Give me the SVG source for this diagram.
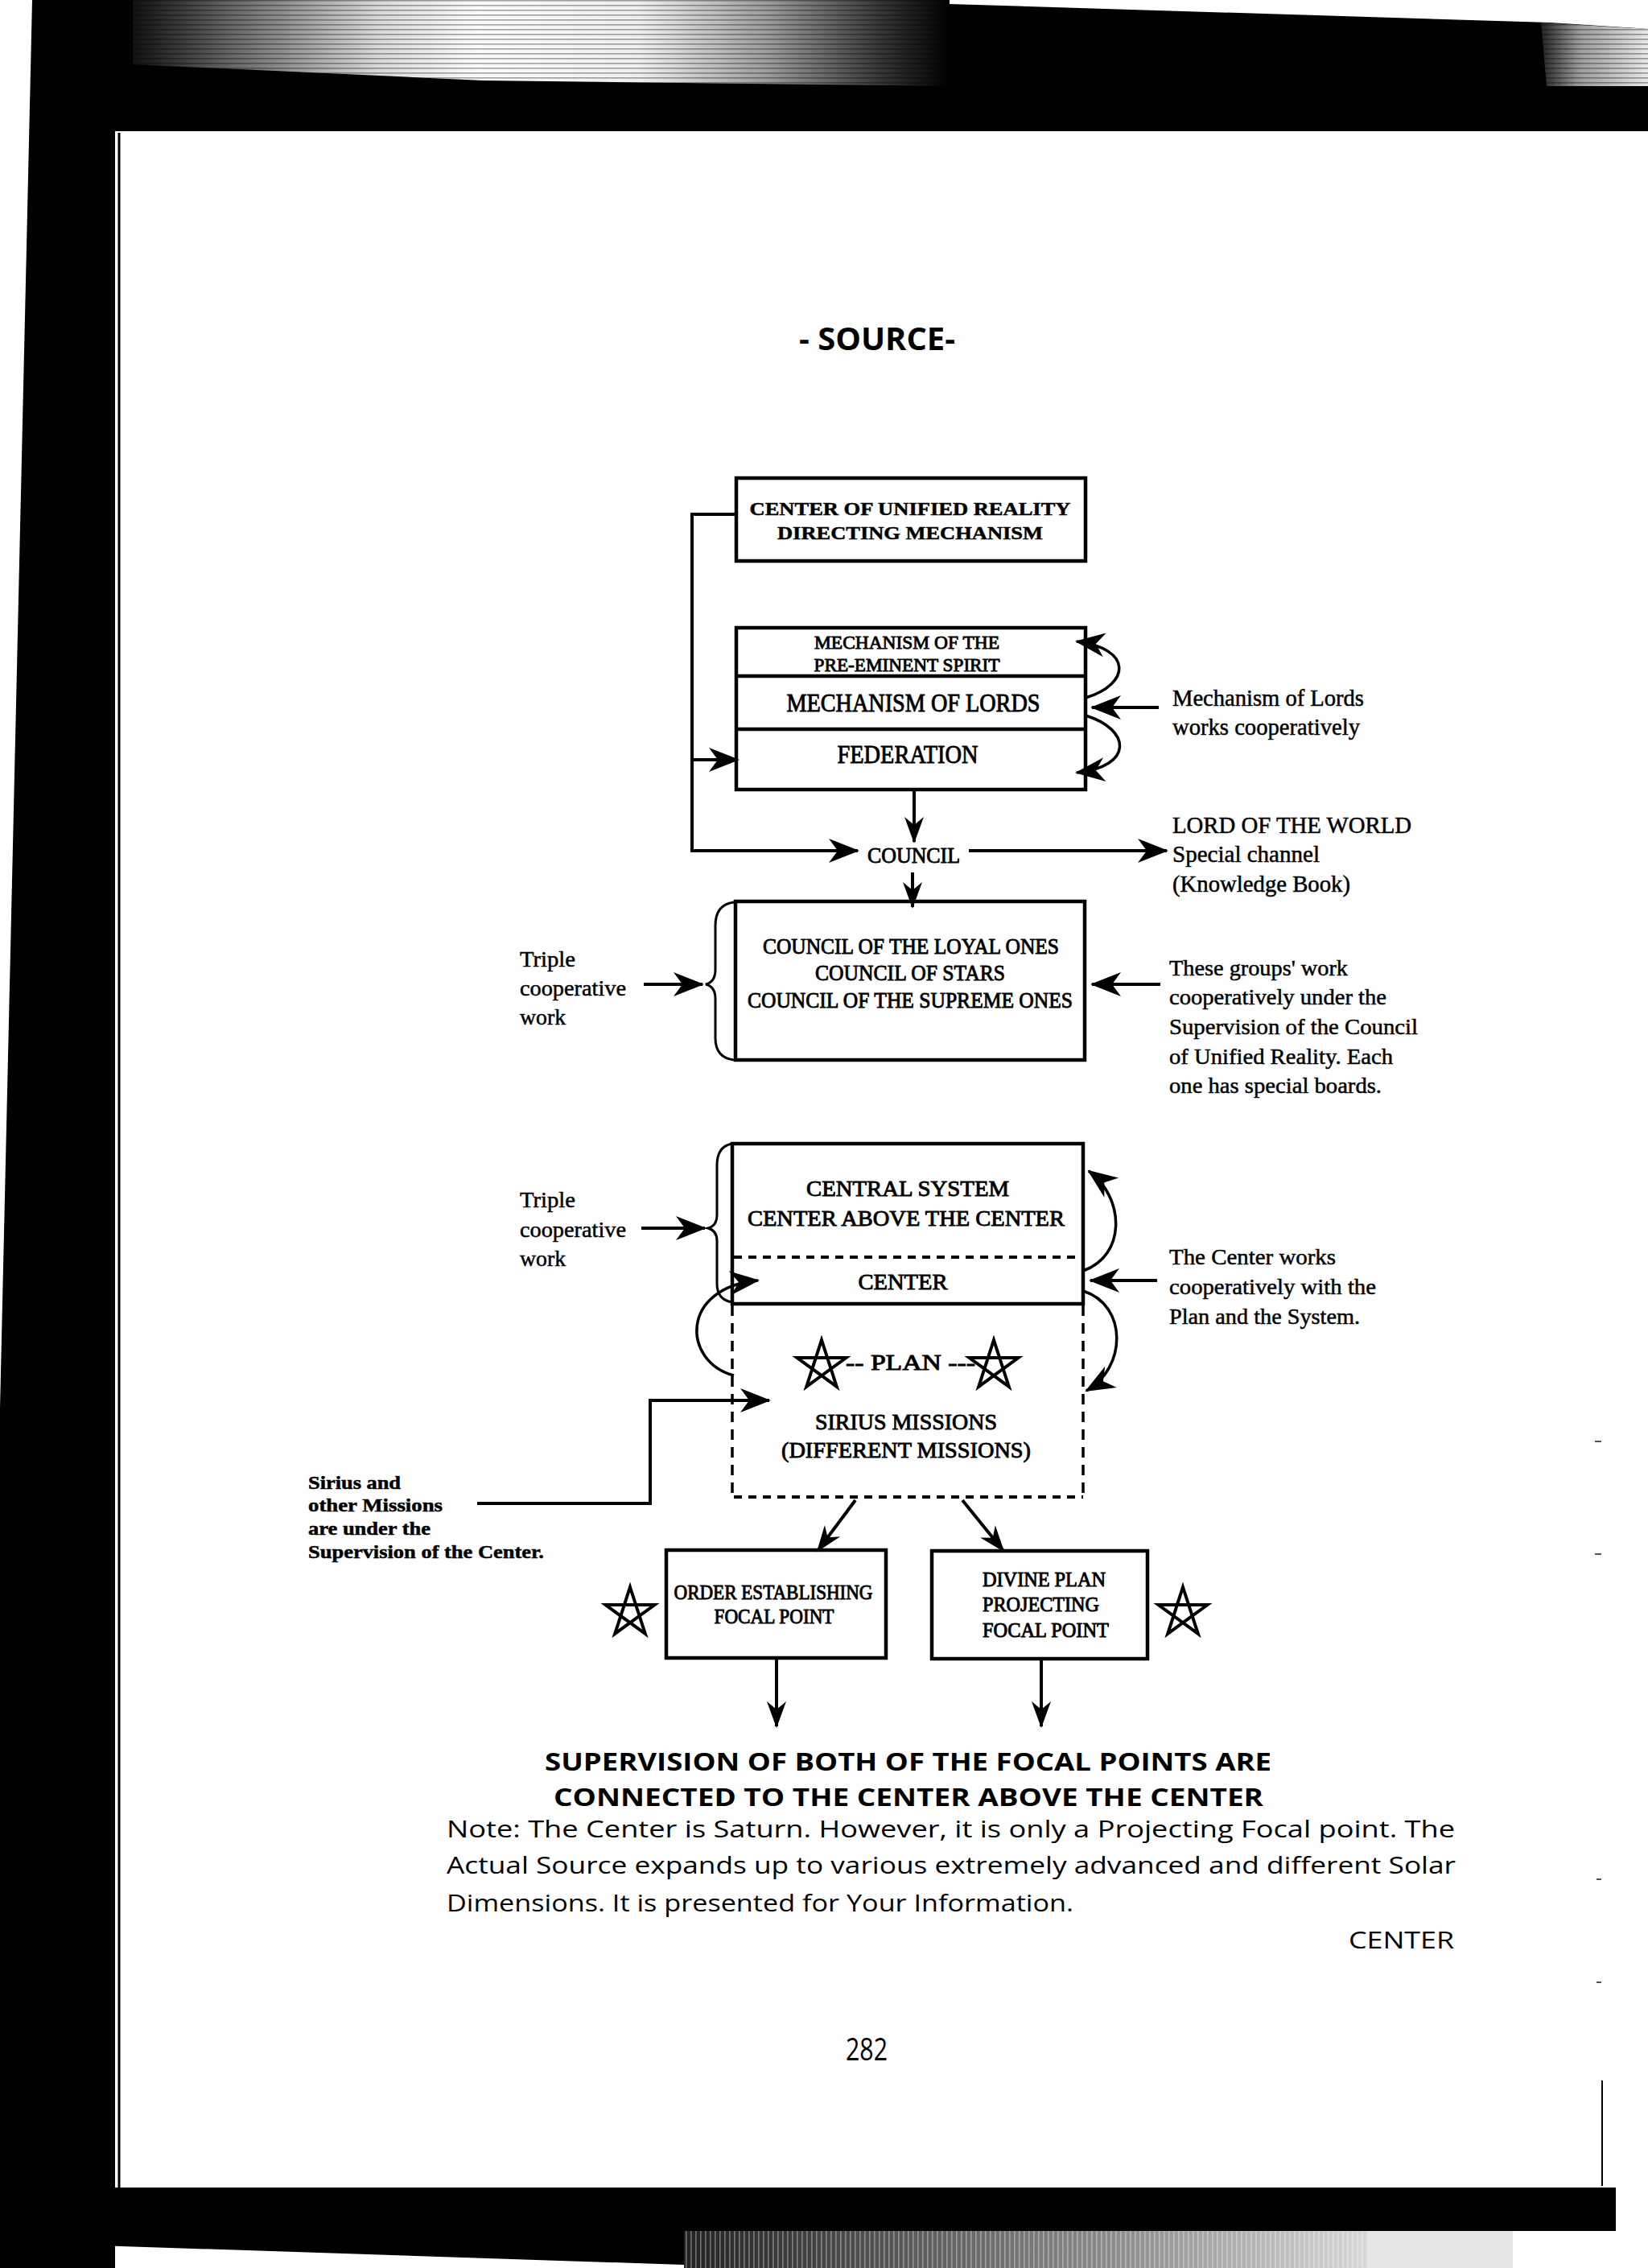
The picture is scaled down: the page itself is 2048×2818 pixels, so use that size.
<svg xmlns="http://www.w3.org/2000/svg" width="2048" height="2818" viewBox="0 0 2048 2818">
<defs>
<style>
.sf{font-family:"Liberation Serif","Times New Roman",serif;fill:#000;stroke:#000;stroke-width:0.5px;}
.hv{stroke-width:0.9px;}
.bd{font-weight:bold;}
.ss{font-family:"Open Sans","Noto Sans","Liberation Sans",sans-serif;fill:#000;}
.box{fill:none;stroke:#000;stroke-width:4.5;}
.ln{fill:none;stroke:#000;stroke-width:4;}
.cv{fill:none;stroke:#000;stroke-width:3.5;}
.br{fill:none;stroke:#000;stroke-width:3;}
.dsh{fill:none;stroke:#000;stroke-width:3.5;stroke-dasharray:13 9;}
.dot{fill:none;stroke:#000;stroke-width:4;stroke-dasharray:10 8;}
.star{fill:none;stroke:#000;stroke-width:4;stroke-linejoin:miter;}
.ctr{text-anchor:middle;}
</style>
<marker id="ah" viewBox="-40 -18 44 36" refX="0" refY="0" markerWidth="44" markerHeight="36" markerUnits="userSpaceOnUse" orient="auto"><path d="M2,0 L-36,-15 L-25,0 L-36,15 Z" fill="#000"/></marker>
<marker id="ahs" viewBox="-36 -16 40 32" refX="0" refY="0" markerWidth="40" markerHeight="32" markerUnits="userSpaceOnUse" orient="auto"><path d="M2,0 L-31,-12 L-21,0 L-31,12 Z" fill="#000"/></marker>
<marker id="ahc" viewBox="-40 -18 44 36" refX="0" refY="0" markerWidth="44" markerHeight="36" markerUnits="userSpaceOnUse" orient="auto"><path d="M2,0 L-35,-15 L-24,0 L-35,15 Z" fill="#000"/></marker>
<path id="star" d="M0,-32 L18.81,25.89 L-30.43,-9.89 L30.43,-9.89 L-18.81,25.89 Z"/>
<linearGradient id="gtop" x1="165" y1="0" x2="1180" y2="0" gradientUnits="userSpaceOnUse">
<stop offset="0" stop-color="#111"/><stop offset="0.12" stop-color="#666"/><stop offset="0.3" stop-color="#d8d8d8"/><stop offset="0.42" stop-color="#fbfbfb"/><stop offset="0.62" stop-color="#efefef"/><stop offset="0.78" stop-color="#999"/><stop offset="0.92" stop-color="#333"/><stop offset="1" stop-color="#000"/>
</linearGradient>
<linearGradient id="gtr" x1="1915" y1="0" x2="2048" y2="0" gradientUnits="userSpaceOnUse">
<stop offset="0" stop-color="#222"/><stop offset="0.35" stop-color="#999"/><stop offset="1" stop-color="#e8e8e8"/>
</linearGradient>
<linearGradient id="gbot" x1="850" y1="0" x2="1700" y2="0" gradientUnits="userSpaceOnUse">
<stop offset="0" stop-color="#222"/><stop offset="0.3" stop-color="#555"/><stop offset="0.7" stop-color="#999"/><stop offset="1" stop-color="#d8d8d8"/>
</linearGradient>
<pattern id="hstr" width="8" height="6" patternUnits="userSpaceOnUse"><rect width="8" height="1.6" fill="#000" fill-opacity="0.35"/></pattern>
<pattern id="vstr" width="6" height="8" patternUnits="userSpaceOnUse"><rect width="1.6" height="8" fill="#fff" fill-opacity="0.35"/></pattern>
</defs>

<g id="scan-border">
<rect width="2048" height="2818" fill="#fff"/>
<polygon points="40,0 1180,0 1180,5 1926,28 2048,36 2048,163 40,163" fill="#000"/>
<polygon points="40,0 143,0 143,2818 0,2818 0,1750" fill="#000"/>
<polygon points="165,0 1180,0 1180,107 600,100 165,80" fill="url(#gtop)"/>
<polygon points="165,0 1180,0 1180,107 600,100 165,80" fill="url(#hstr)"/>
<polygon points="1915,28 2048,36 2048,107 1922,107" fill="url(#gtr)"/>
<polygon points="1915,28 2048,36 2048,107 1922,107" fill="url(#hstr)"/>
<polygon points="0,2718 2008,2718 2008,2772 850,2772 850,2814 0,2786" fill="#000"/>
<rect x="850" y="2772" width="850" height="46" fill="url(#gbot)"/>
<rect x="850" y="2772" width="850" height="46" fill="url(#vstr)"/>
<rect x="1700" y="2772" width="180" height="46" fill="#e6e6e6"/>
<line x1="148" y1="165" x2="148" y2="2718" stroke="#000" stroke-width="3"/>
<line x1="1991" y1="2585" x2="1991" y2="2716" stroke="#000" stroke-width="2"/>
<line x1="1982" y1="1791" x2="1990" y2="1791" stroke="#555" stroke-width="2"/>
<line x1="1982" y1="1931" x2="1990" y2="1931" stroke="#555" stroke-width="2"/>
<line x1="1984" y1="2335" x2="1990" y2="2335" stroke="#555" stroke-width="2"/>
<line x1="1984" y1="2463" x2="1990" y2="2463" stroke="#555" stroke-width="2"/>
</g>

<g id="title"><text class="ss bd" x="993" y="435" font-size="39" textLength="194" lengthAdjust="spacingAndGlyphs">- SOURCE-</text></g>

<g id="connectors">
<path class="ln" d="M915,639 H860 V1057 H1066" marker-end="url(#ah)"/>
<path class="ln" d="M860,944 H917" marker-end="url(#ah)"/>
<path class="ln" d="M1136,982 V1046" marker-end="url(#ahs)"/>
<path class="ln" d="M1134,1084 V1127" marker-end="url(#ahs)"/>
<path class="ln" d="M1204,1057 H1450" marker-end="url(#ah)"/>
<path class="ln" d="M1440,879 H1357" marker-end="url(#ah)"/>
<path class="cv" d="M1349,867 C1405,850 1408,806 1338,797" marker-end="url(#ahc)"/>
<path class="cv" d="M1349,889 C1405,906 1410,952 1338,960" marker-end="url(#ahc)"/>
<path class="ln" d="M800,1223 H873" marker-end="url(#ah)"/>
<path class="ln" d="M1442,1223 H1357" marker-end="url(#ah)"/>
<path class="ln" d="M797,1526 H876" marker-end="url(#ah)"/>
<path class="ln" d="M1438,1591 H1355" marker-end="url(#ah)"/>
<path class="cv" d="M1346,1579 C1400,1560 1398,1488 1353,1455" marker-end="url(#ahc)"/>
<path class="cv" d="M1346,1604 C1402,1622 1400,1700 1350,1728" marker-end="url(#ahc)"/>
<path class="cv" d="M912,1709 C848,1692 844,1600 942,1591" marker-end="url(#ahc)"/>
<path class="ln" d="M593,1868 H808 V1740 H956" marker-end="url(#ah)"/>
<path class="ln" d="M1063,1864 L1016,1927" marker-end="url(#ahs)"/>
<path class="ln" d="M1196,1864 L1247,1927" marker-end="url(#ahs)"/>
<path class="ln" d="M965,2062 V2145" marker-end="url(#ahs)"/>
<path class="ln" d="M1294,2062 V2145" marker-end="url(#ahs)"/>
<path class="br" d="M912,1121 Q889,1124 889,1150 L889,1205 Q889,1220 877,1223 Q889,1226 889,1241 L889,1290 Q889,1314 912,1317"/>
<path class="br" d="M910,1421 Q891,1424 891,1448 L891,1510 Q891,1523 880,1526 Q891,1529 891,1542 L891,1595 Q891,1615 910,1618"/>
</g>

<g id="node-center-unified">
<rect class="box" x="915" y="594" width="434" height="103"/>
<text class="sf bd ctr" x="1131" y="640" font-size="24" textLength="399" lengthAdjust="spacingAndGlyphs">CENTER OF UNIFIED REALITY</text>
<text class="sf bd ctr" x="1131" y="670" font-size="24" textLength="330" lengthAdjust="spacingAndGlyphs">DIRECTING MECHANISM</text>
</g>

<g id="node-mechanisms">
<rect class="box" x="915" y="780" width="434" height="201"/>
<line class="box" x1="915" y1="840" x2="1349" y2="840"/>
<line class="box" x1="915" y1="906" x2="1349" y2="906"/>
<text class="sf hv ctr" x="1127" y="806" font-size="23" textLength="230" lengthAdjust="spacingAndGlyphs">MECHANISM OF THE</text>
<text class="sf hv ctr" x="1127" y="834" font-size="23" textLength="231" lengthAdjust="spacingAndGlyphs">PRE-EMINENT SPIRIT</text>
<text class="sf hv ctr" x="1135" y="884" font-size="31" textLength="315" lengthAdjust="spacingAndGlyphs">MECHANISM OF LORDS</text>
<text class="sf hv ctr" x="1128" y="948" font-size="32" textLength="175" lengthAdjust="spacingAndGlyphs">FEDERATION</text>
</g>

<g id="label-mech-lords">
<text class="sf" x="1457" y="877" font-size="29" textLength="238" lengthAdjust="spacingAndGlyphs">Mechanism of Lords</text>
<text class="sf" x="1457" y="913" font-size="29" textLength="233" lengthAdjust="spacingAndGlyphs">works cooperatively</text>
</g>

<g id="node-council">
<text class="sf hv" x="1078" y="1072" font-size="27" textLength="115" lengthAdjust="spacingAndGlyphs">COUNCIL</text>
</g>

<g id="label-lord-world">
<text class="sf" x="1457" y="1035" font-size="29" textLength="297" lengthAdjust="spacingAndGlyphs">LORD OF THE WORLD</text>
<text class="sf" x="1457" y="1071" font-size="29" textLength="183" lengthAdjust="spacingAndGlyphs">Special channel</text>
<text class="sf" x="1457" y="1108" font-size="29" textLength="221" lengthAdjust="spacingAndGlyphs">(Knowledge Book)</text>
</g>

<g id="node-councils">
<rect class="box" x="914" y="1120" width="434" height="197"/>
<text class="sf hv ctr" x="1132" y="1185" font-size="28" textLength="368" lengthAdjust="spacingAndGlyphs">COUNCIL OF THE LOYAL ONES</text>
<text class="sf hv ctr" x="1131" y="1218" font-size="28" textLength="236" lengthAdjust="spacingAndGlyphs">COUNCIL OF STARS</text>
<text class="sf hv ctr" x="1131" y="1252" font-size="28" textLength="404" lengthAdjust="spacingAndGlyphs">COUNCIL OF THE SUPREME ONES</text>
</g>

<g id="label-triple-1">
<text class="sf" x="646" y="1201" font-size="28" textLength="69" lengthAdjust="spacingAndGlyphs">Triple</text>
<text class="sf" x="646" y="1237" font-size="28" textLength="132" lengthAdjust="spacingAndGlyphs">cooperative</text>
<text class="sf" x="646" y="1273" font-size="28" textLength="57" lengthAdjust="spacingAndGlyphs">work</text>
</g>

<g id="label-groups">
<text class="sf" x="1453" y="1212" font-size="28" textLength="222" lengthAdjust="spacingAndGlyphs">These groups' work</text>
<text class="sf" x="1453" y="1248" font-size="28" textLength="270" lengthAdjust="spacingAndGlyphs">cooperatively under the</text>
<text class="sf" x="1453" y="1285" font-size="28" textLength="309" lengthAdjust="spacingAndGlyphs">Supervision of the Council</text>
<text class="sf" x="1453" y="1322" font-size="28" textLength="278" lengthAdjust="spacingAndGlyphs">of Unified Reality. Each</text>
<text class="sf" x="1453" y="1358" font-size="28" textLength="264" lengthAdjust="spacingAndGlyphs">one has special boards.</text>
</g>

<g id="node-central-system">
<rect class="box" x="910" y="1421" width="436" height="199"/>
<line class="dot" x1="912" y1="1562" x2="1346" y2="1562"/>
<text class="sf hv ctr" x="1128" y="1486" font-size="28" textLength="252" lengthAdjust="spacingAndGlyphs">CENTRAL SYSTEM</text>
<text class="sf hv ctr" x="1126" y="1523" font-size="28" textLength="394" lengthAdjust="spacingAndGlyphs">CENTER ABOVE THE CENTER</text>
<text class="sf hv ctr" x="1122" y="1602" font-size="28" textLength="111" lengthAdjust="spacingAndGlyphs">CENTER</text>
</g>

<g id="node-plan-sirius">
<line class="dsh" x1="910" y1="1622" x2="910" y2="1860"/>
<line class="dsh" x1="1346" y1="1622" x2="1346" y2="1860"/>
<line class="dot" x1="912" y1="1860" x2="1346" y2="1860"/>
<use href="#star" class="star" x="1021" y="1697"/>
<use href="#star" class="star" x="1235" y="1697"/>
<text class="sf hv" x="1051" y="1702" font-size="27" textLength="161" lengthAdjust="spacingAndGlyphs">-- PLAN ---</text>
<text class="sf hv ctr" x="1126" y="1776" font-size="28" textLength="226" lengthAdjust="spacingAndGlyphs">SIRIUS MISSIONS</text>
<text class="sf hv ctr" x="1126" y="1811" font-size="28" textLength="310" lengthAdjust="spacingAndGlyphs">(DIFFERENT MISSIONS)</text>
</g>

<g id="label-triple-2">
<text class="sf" x="646" y="1500" font-size="28" textLength="69" lengthAdjust="spacingAndGlyphs">Triple</text>
<text class="sf" x="646" y="1537" font-size="28" textLength="132" lengthAdjust="spacingAndGlyphs">cooperative</text>
<text class="sf" x="646" y="1573" font-size="28" textLength="57" lengthAdjust="spacingAndGlyphs">work</text>
</g>

<g id="label-center-works">
<text class="sf" x="1453" y="1571" font-size="28" textLength="207" lengthAdjust="spacingAndGlyphs">The Center works</text>
<text class="sf" x="1453" y="1608" font-size="28" textLength="257" lengthAdjust="spacingAndGlyphs">cooperatively with the</text>
<text class="sf" x="1453" y="1645" font-size="28" textLength="237" lengthAdjust="spacingAndGlyphs">Plan and the System.</text>
</g>

<g id="label-sirius">
<text class="sf bd" x="383" y="1850" font-size="23" textLength="115" lengthAdjust="spacingAndGlyphs">Sirius and</text>
<text class="sf bd" x="383" y="1878" font-size="23" textLength="167" lengthAdjust="spacingAndGlyphs">other Missions</text>
<text class="sf bd" x="383" y="1907" font-size="23" textLength="152" lengthAdjust="spacingAndGlyphs">are under the</text>
<text class="sf bd" x="383" y="1936" font-size="23" textLength="293" lengthAdjust="spacingAndGlyphs">Supervision of the Center.</text>
</g>

<g id="node-order-focal">
<rect class="box" x="828" y="1926" width="273" height="134"/>
<text class="sf hv ctr" x="961" y="1987" font-size="25" textLength="247" lengthAdjust="spacingAndGlyphs">ORDER ESTABLISHING</text>
<text class="sf hv ctr" x="962" y="2017" font-size="25" textLength="149" lengthAdjust="spacingAndGlyphs">FOCAL POINT</text>
<use href="#star" class="star" x="783" y="2004"/>
</g>

<g id="node-divine-focal">
<rect class="box" x="1158" y="1927" width="268" height="134"/>
<text class="sf hv" x="1221" y="1971" font-size="25" textLength="153" lengthAdjust="spacingAndGlyphs">DIVINE PLAN</text>
<text class="sf hv" x="1221" y="2002" font-size="25" textLength="145" lengthAdjust="spacingAndGlyphs">PROJECTING</text>
<text class="sf hv" x="1221" y="2034" font-size="25" textLength="157" lengthAdjust="spacingAndGlyphs">FOCAL POINT</text>
<use href="#star" class="star" x="1470" y="2004"/>
</g>

<g id="footer-text">
<text class="ss bd" x="677" y="2200" font-size="30" textLength="903" lengthAdjust="spacingAndGlyphs">SUPERVISION OF BOTH OF THE FOCAL POINTS ARE</text>
<text class="ss bd" x="688" y="2244" font-size="30" textLength="882" lengthAdjust="spacingAndGlyphs">CONNECTED TO THE CENTER ABOVE THE CENTER</text>
<text class="ss" x="555" y="2283" font-size="29" textLength="1253" lengthAdjust="spacingAndGlyphs">Note: The Center is Saturn. However, it is only a Projecting Focal point. The</text>
<text class="ss" x="555" y="2328" font-size="29" textLength="1254" lengthAdjust="spacingAndGlyphs">Actual Source expands up to various extremely advanced and different Solar</text>
<text class="ss" x="555" y="2375" font-size="29" textLength="779" lengthAdjust="spacingAndGlyphs">Dimensions. It is presented for Your Information.</text>
<text class="ss" x="1676" y="2421" font-size="29" textLength="131" lengthAdjust="spacingAndGlyphs">CENTER</text>
<text class="ss" x="1051" y="2560" font-size="38" textLength="52" lengthAdjust="spacingAndGlyphs">282</text>
</g>
</svg>
